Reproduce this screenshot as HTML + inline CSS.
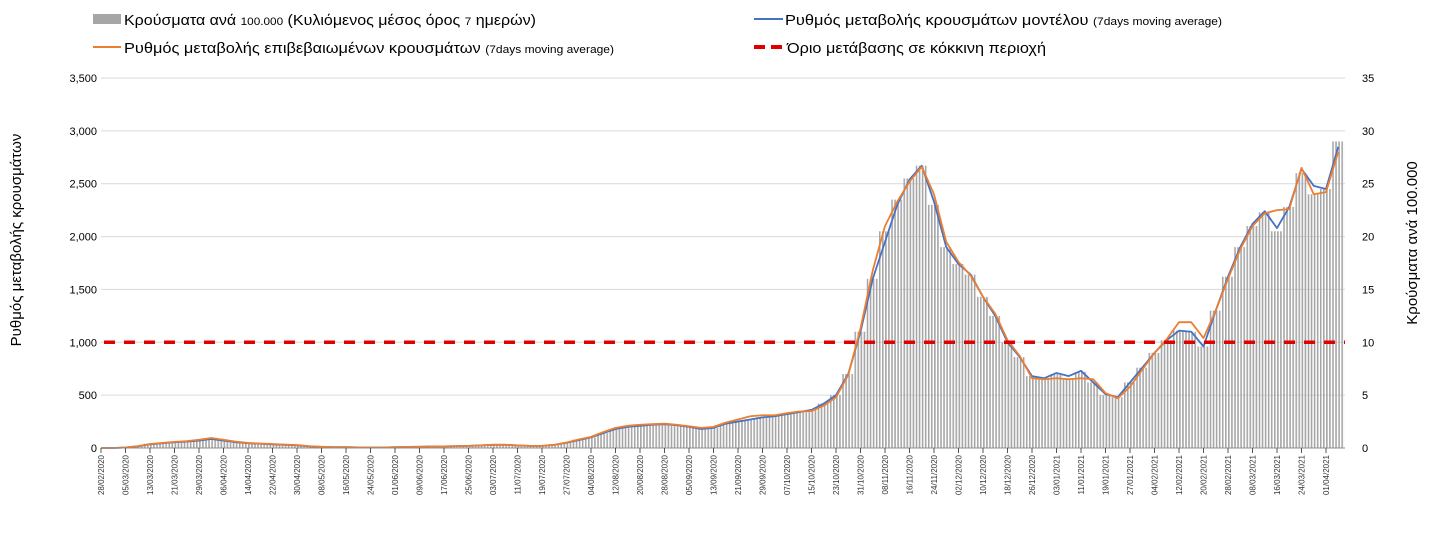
<!DOCTYPE html>
<html><head><meta charset="utf-8"><style>
html,body{margin:0;padding:0;background:#fff;}
svg{display:block;font-family:"Liberation Sans","DejaVu Sans",sans-serif;}
</style></head><body>
<svg id="chart" width="1430" height="535" viewBox="0 0 1430 535" xmlns="http://www.w3.org/2000/svg">
<defs>
<pattern id="barpat" patternUnits="userSpaceOnUse" x="0" y="0" width="3.0625" height="10">
<rect x="0" y="0" width="1.6" height="10" fill="#a6a6a6"/>
</pattern>
</defs>
<g id="legend">
<g>
<rect x="93" y="14" width="28" height="10" fill="#a6a6a6"/>
<text x="124" y="25" font-size="15" textLength="412" lengthAdjust="spacingAndGlyphs">Κρούσματα ανά <tspan font-size="11">100.000</tspan> (Κυλιόμενος μέσος όρος <tspan font-size="11">7</tspan> ημερών)</text>
</g>
<g>
<line x1="93" y1="47" x2="121" y2="47" stroke="#ed7d31" stroke-width="2"/>
<text x="124" y="53" font-size="15" textLength="490" lengthAdjust="spacingAndGlyphs">Ρυθμός μεταβολής επιβεβαιωμένων κρουσμάτων <tspan font-size="11">(7days moving average)</tspan></text>
</g>
<g>
<line x1="754" y1="19" x2="783" y2="19" stroke="#4472c4" stroke-width="2"/>
<text x="785" y="25" font-size="15" textLength="437" lengthAdjust="spacingAndGlyphs">Ρυθμός μεταβολής κρουσμάτων μοντέλου <tspan font-size="11">(7days moving average)</tspan></text>
</g>
<g>
<line x1="754" y1="47" x2="784" y2="47" stroke="#e00000" stroke-width="4" stroke-dasharray="11,6"/>
<text x="787" y="53" font-size="15" textLength="259" lengthAdjust="spacingAndGlyphs">Όριο μετάβασης σε κόκκινη περιοχή</text>
</g>
</g>
<text transform="translate(21,240) rotate(-90)" text-anchor="middle" font-size="15">Ρυθμός μεταβολής κρουσμάτων</text>
<text transform="translate(1417,243) rotate(-90)" text-anchor="middle" font-size="15">Κρούσματα ανά 100.000</text>
<g id="grid"></g>
<g id="bars"></g>
<g id="lines"></g>
<g id="axes"></g>
</svg>
<script>
const leftTicks = [0,500,1000,1500,2000,2500,3000,3500];
const leftTickLabels = ["0","500","1,000","1,500","2,000","2,500","3,000","3,500"];
const rightTickLabels = ["0","5","10","15","20","25","30","35"];
const dateLabels = ["28/02/2020","05/03/2020","13/03/2020","21/03/2020","29/03/2020","06/04/2020","14/04/2020","22/04/2020","30/04/2020","08/05/2020","16/05/2020","24/05/2020","01/06/2020","09/06/2020","17/06/2020","25/06/2020","03/07/2020","11/07/2020","19/07/2020","27/07/2020","04/08/2020","12/08/2020","20/08/2020","28/08/2020","05/09/2020","13/09/2020","21/09/2020","29/09/2020","07/10/2020","15/10/2020","23/10/2020","31/10/2020","08/11/2020","16/11/2020","24/11/2020","02/12/2020","10/12/2020","18/12/2020","26/12/2020","03/01/2021","11/01/2021","19/01/2021","27/01/2021","04/02/2021","12/02/2021","20/02/2021","28/02/2021","08/03/2021","16/03/2021","24/03/2021","01/04/2021"];
// samples every 4 days starting 28/02/2020
const modelRate = [0,0,5,15,35,45,55,60,70,85,70,55,45,40,35,30,25,15,10,8,8,6,5,5,8,10,12,15,15,18,20,25,30,30,25,20,20,30,50,75,100,140,180,200,210,220,225,215,200,180,190,230,250,270,290,300,320,340,360,420,500,700,1100,1600,1950,2300,2540,2670,2330,1900,1740,1640,1430,1250,1000,860,680,660,710,680,730,620,510,480,620,760,900,1020,1110,1100,960,1300,1620,1900,2120,2240,2080,2280,2640,2480,2450,2850];
const confirmedRate = [0,0,5,18,38,48,58,65,78,95,78,60,48,42,38,32,28,18,12,8,8,6,5,5,8,10,12,15,15,18,20,25,30,30,25,20,20,30,52,80,105,150,190,210,220,225,230,220,205,190,200,240,270,300,310,310,330,345,350,400,480,690,1130,1680,2100,2330,2520,2660,2400,1950,1760,1630,1430,1270,1020,870,660,650,660,650,660,650,520,470,580,740,900,1030,1190,1190,1040,1300,1600,1880,2100,2220,2250,2260,2650,2400,2420,2800];
const casesPer100k = [0,0,0.1,0.2,0.4,0.5,0.6,0.6,0.7,0.8,0.7,0.5,0.4,0.4,0.3,0.3,0.2,0.1,0.1,0.1,0.1,0.1,0.1,0.1,0.1,0.1,0.1,0.2,0.2,0.2,0.2,0.3,0.3,0.3,0.2,0.2,0.2,0.3,0.5,0.8,1.0,1.4,1.8,2.0,2.1,2.2,2.2,2.1,2.0,1.8,1.9,2.3,2.5,2.7,2.9,3.0,3.2,3.4,3.6,4.2,5.0,7.0,11.0,16.0,20.5,23.5,25.5,26.7,23.0,19.0,17.4,16.4,14.3,12.5,10.0,8.6,6.8,6.6,7.0,6.6,7.2,6.2,5.0,4.8,6.2,7.6,9.0,10.2,11.1,11.0,9.6,13.0,16.2,19.0,21.0,22.3,20.5,22.8,26.0,24.0,24.5,29.0];
const thresholdValue = 1000;

const NS = "http://www.w3.org/2000/svg";
const X0 = 101, PX_PER_DAY = 3.0625, STEP_DAYS = 4, LABEL_STEP_DAYS = 8;
const Y0 = 448, YTOP = 78, LMAX = 3500, RMAX = 35, XR = 1345;
function xDay(d){ return X0 + d*PX_PER_DAY; }
function yL(v){ return Y0 - v/LMAX*(Y0-YTOP); }
function yR(v){ return Y0 - v/RMAX*(Y0-YTOP); }
function mk(tag, attrs, parent){ const e=document.createElementNS(NS,tag); for(const k in attrs) e.setAttribute(k,attrs[k]); parent.appendChild(e); return e; }

const grid = document.getElementById('grid');
const axes = document.getElementById('axes');
leftTicks.forEach((v,i)=>{
  const gl = mk('line',{x1:X0,x2:XR,y1:yL(v),y2:yL(v),stroke:'#d9d9d9','stroke-width':1},grid);
  
  
  const lt = mk('text',{x:97,y:yL(v)+4,'text-anchor':'end','font-size':11},axes);
  lt.textContent = leftTickLabels[i];
  
  
  const rt = mk('text',{x:1362,y:yL(v)+4,'text-anchor':'start','font-size':11},axes);
  rt.textContent = rightTickLabels[i];
  
  
});

const bars = document.getElementById('bars');
casesPer100k.forEach((v,i)=>{
  const xc = xDay(i*STEP_DAYS);
  const w = STEP_DAYS*PX_PER_DAY;
  const x = Math.max(X0+1, xc - w/2);
  const r = mk('rect',{x:x,y:yR(v),width:Math.min(w, XR-x),height:Y0-yR(v),fill:'url(#barpat)'},bars);
  
  
});

const lines = document.getElementById('lines');
function pathFor(arr){ return arr.map((v,i)=>(i?'L':'M')+xDay(i*STEP_DAYS).toFixed(2)+','+yL(v).toFixed(2)).join(' '); }
const pm = mk('path',{d:pathFor(modelRate),fill:'none',stroke:'#4472c4','stroke-width':1.8,'stroke-linejoin':'round'},lines);


const pc = mk('path',{d:pathFor(confirmedRate),fill:'none',stroke:'#ed7d31','stroke-width':1.8,'stroke-linejoin':'round'},lines);


const th = mk('line',{x1:X0+3,x2:XR,y1:yL(thresholdValue),y2:yL(thresholdValue),stroke:'#e00000','stroke-width':3.5,'stroke-dasharray':'11,9'},lines);



const ax = mk('line',{x1:X0,x2:XR,y1:Y0,y2:Y0,stroke:'#8c8c8c','stroke-width':1},axes);


dateLabels.forEach((lab,i)=>{
  const x = xDay(i*LABEL_STEP_DAYS);
  const tk = mk('line',{x1:x,x2:x,y1:Y0,y2:Y0+5,stroke:'#555','stroke-width':1},axes);
  
  
  const t = mk('text',{transform:'translate('+(x+3)+',455) rotate(-90)','text-anchor':'end','font-size':8,fill:'#333'},axes);
  t.textContent = lab;
  
  
});
</script>
</body></html>
